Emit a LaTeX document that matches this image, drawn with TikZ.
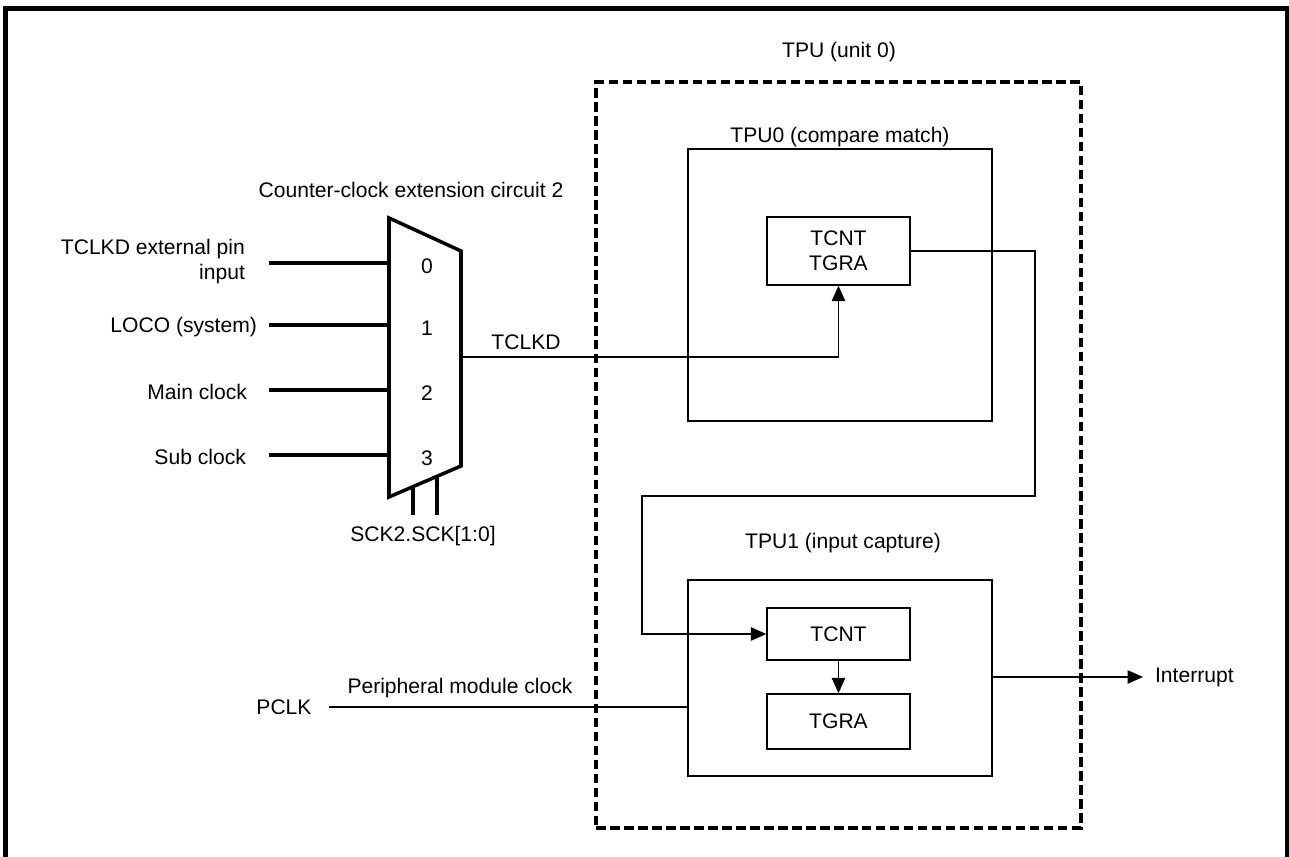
\documentclass[tikz,border=0pt]{standalone}
\usepackage{fontspec}
\setmainfont{Liberation Sans}
\usetikzlibrary{arrows.meta,positioning,calc}
\definecolor{ink}{RGB}{0,0,0}
\tikzset{
  >={Triangle[length=3.1mm,width=2.7mm]},
  frame/.style={draw=ink,line width=2.3pt},
  unit/.style={draw=ink,line width=1.8pt,dash pattern=on 0.19cm off 0.09cm,
    minimum width=9.7cm,minimum height=14.92cm},
  block/.style={draw=ink,line width=1.2pt,minimum width=6.08cm,minimum height=#1},
  block/.default=5.44cm,
  reg/.style={draw=ink,line width=0.85pt,minimum width=2.86cm,minimum height=#1,align=center},
  reg/.default=1.04cm,
  mux/.style={draw=ink,line width=2pt,line join=miter},
  bus/.style={draw=ink,line width=2pt},
  wire/.style={draw=ink,line width=0.8pt},
  flow/.style={->,wire},
  tag/.style={text=ink,inner sep=1pt,align=center},
}

\begin{document}
\begin{tikzpicture}[x=0.02cm,y=-0.02cm,font=\fontsize{12}{14.2}\selectfont]
    \useasboundingbox (0,0) rectangle (1289,857);
    \draw[frame] (5.5,857) -- (5.5,8.5) -- (1287.5,8.5) -- (1287.5,857);
    % TPU unit
    \node[unit] (unit) at (838.5,455) {};
    \node[tag] (unitlbl) at (839,52) {TPU (unit 0)};
    \node[block] (tpu0) at (840,285) {};
    \node[tag] (tpu0lbl) at (840,137) {TPU0 (compare match)};
    \node[reg=1.36cm] (regs0) at (838.5,251) {TCNT\\TGRA};
    \node[block=3.92cm] (tpu1) at (840,678) {};
    \node[tag] (tpu1lbl) at (843,543) {TPU1 (input capture)};
    \node[reg] (tcnt) at (838.5,634) {TCNT};
    \node[reg=1.1cm] (tgra) at (838.5,721.5) {TGRA};
    % counter-clock extension circuit
    \coordinate (mtl) at (389,218);
    \coordinate (mtr) at (461,251);
    \coordinate (mbr) at (461,466);
    \coordinate (mbl) at (389,497);
    \draw[mux] (mtl) -- (mtr) -- (mbr) -- (mbl) -- cycle;
    \node[tag] (muxlbl) at (411,190) {Counter-clock extension circuit 2};
    \foreach \y/\n in {263/0,325/1,390/2,455/3} {
      \coordinate (in\n) at (389,\y);
      \draw[bus] (in\n) -- ++(-120,0);
      \node[tag] (sel\n) at (427,\y+3) {\n};
    }
    \node[tag,anchor=east,align=right] (src0) at (247,262) {TCLKD external pin\\input};
    \node[tag,anchor=east] (src1) at (259,327) {LOCO (system)};
    \node[tag,anchor=east] (src2) at (249,392) {Main clock};
    \node[tag,anchor=east] (src3) at (248,457) {Sub clock};
    \coordinate (ck0) at (413,515);
    \coordinate (ck1) at (437,515);
    \draw[bus] ($(mbl)!1/3!(mbr)$) -- (ck0);
    \draw[bus] ($(mbl)!2/3!(mbr)$) -- (ck1);
    \node[tag] (cklbl) at (423,536) {SCK2.SCK[1:0]};
    % connections
    \coordinate (muxout) at (461,357);
    \draw[flow] (muxout) -| (regs0.south);
    \node[tag] (tclkd) at (526,342) {TCLKD};
    \coordinate (bendA) at (1035,496);
    \coordinate (bendB) at (642,496);
    \draw[flow] (regs0.east) -| (bendA) -- (bendB) |- (tcnt.west);
    \draw[flow] (tcnt) -- (tgra);
    \node[tag] (pclk) at (284,707) {PCLK};
    \node[tag] (pclklbl) at (460,688) {Peripheral module clock};
    \draw[wire] ([xshift=0.3cm]pclk.east) -- (pclk -| tpu1.west);
    \node[tag,anchor=west] (irq) at (1153,677) {Interrupt};
    \draw[flow] (tpu1.east |- irq) -- ([xshift=-0.2cm]irq.west);
\end{tikzpicture}
\end{document}
